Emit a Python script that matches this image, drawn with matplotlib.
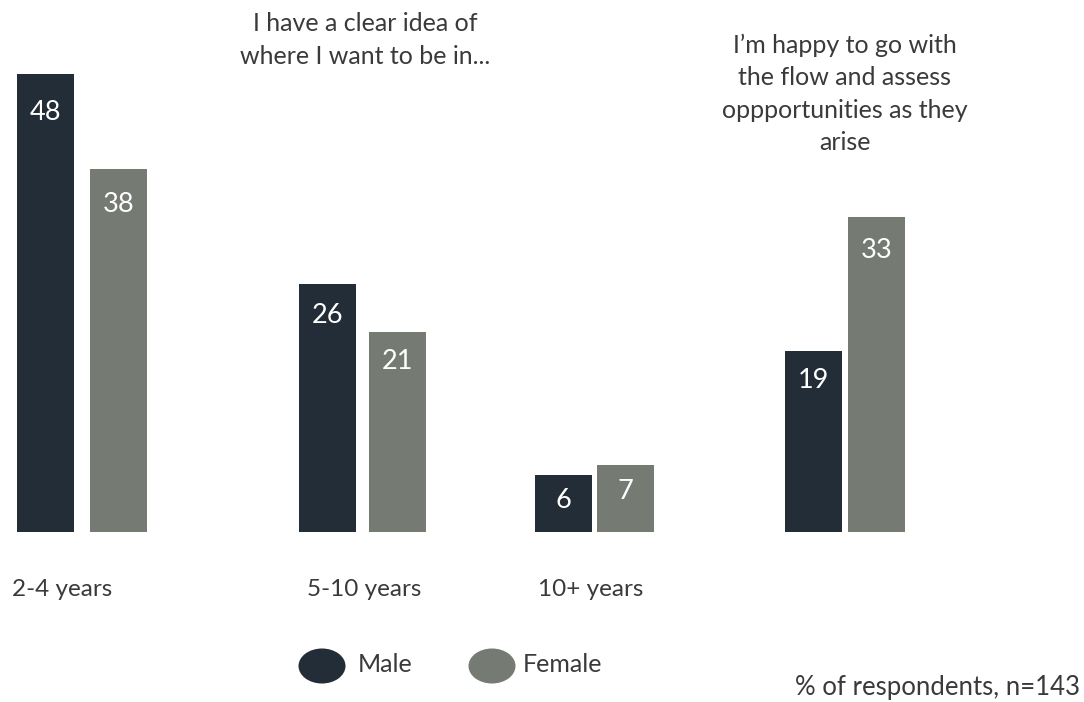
import matplotlib
matplotlib.use("Agg")
import matplotlib.pyplot as plt
from matplotlib.patches import Ellipse

# Survey data (% of respondents)
categories = ["2-4 years", "5-10 years", "10+ years", ""]
male = [48, 26, 6, 19]
female = [38, 21, 7, 33]
series_names = ["Male", "Female"]

# Styling / layout
MALE_COLOR = "#232d37"
FEMALE_COLOR = "#757b73"
TEXT_COLOR = "#3a3a3a"
FONT = ["Lato", "DejaVu Sans"]
TEXT_WEIGHT = "normal"

W, H = 1084, 702
DPI = 100
fig = plt.figure(figsize=(W / DPI, H / DPI), dpi=DPI)
fig.patch.set_facecolor("white")

# Axes spans the whole figure; x measured in pixels, y in percent
ax = fig.add_axes([0, 0, 1, 1])
px_per_unit = 9.54
baseline_px = 532  # from the top
ax.set_xlim(0, W)
ax.set_ylim(-(H - baseline_px) / px_per_unit, baseline_px / px_per_unit)
ax.axis("off")

group_centers = [82, 362.5, 594.5, 845]
inner_gaps = [16, 13, 5, 6]
bar_w = 57

male_x = [c - (bar_w + g) / 2 for c, g in zip(group_centers, inner_gaps)]
female_x = [c + (bar_w + g) / 2 for c, g in zip(group_centers, inner_gaps)]

ax.bar(male_x, male, width=bar_w, color=MALE_COLOR, linewidth=0)
ax.bar(female_x, female, width=bar_w, color=FEMALE_COLOR, linewidth=0)

# Value labels inside the top of each bar
for xs, vals in ((male_x, male), (female_x, female)):
    for x, v in zip(xs, vals):
        off = 24.3 + 0.286 * v
        ax.annotate(str(v), xy=(x, v), xytext=(0, -off), textcoords="offset pixels",
                    ha="center", va="center", color="white", fontsize=19.5,
                    family=FONT)

# Category labels below the bars
cat_label_x = [62, 364, 591]
for x, lab in zip(cat_label_x, categories[:3]):
    ax.annotate(lab, xy=(x, 0), xytext=(0, -(589 - baseline_px)),
                textcoords="offset pixels", ha="center", va="center",
                color=TEXT_COLOR, fontsize=17.5, family=FONT, fontweight=TEXT_WEIGHT)

# Overlay in figure pixels (top-left origin) for headings and legend
ov = fig.add_axes([0, 0, 1, 1], facecolor="none")
ov.set_xlim(0, W)
ov.set_ylim(H, 0)
ov.axis("off")

ov.text(365, 40, "I have a clear idea of\nwhere I want to be in...", ha="center",
        va="center", color=TEXT_COLOR, fontsize=18, family=FONT,
        fontweight=TEXT_WEIGHT, linespacing=1.5)
ov.text(845, 94, "I’m happy to go with\nthe flow and assess\noppportunities as they\narise",
        ha="center", va="center", color=TEXT_COLOR, fontsize=18, family=FONT,
        fontweight=TEXT_WEIGHT, linespacing=1.5)

# Legend
legend_items = [(322, 358, MALE_COLOR), (492, 523, FEMALE_COLOR)]
for (cx, tx, col), name in zip(legend_items, series_names):
    ov.add_patch(Ellipse((cx, 666), 47, 35, color=col, linewidth=0))
    ov.text(tx, 665, name, ha="left", va="center", color=TEXT_COLOR,
            fontsize=18, family=FONT, fontweight=TEXT_WEIGHT)

ov.text(1080, 687, "% of respondents, n=143", ha="right", va="center",
        color=TEXT_COLOR, fontsize=18.5, family=FONT, fontweight=TEXT_WEIGHT)

fig.savefig("out.png", dpi=DPI, facecolor="white")
